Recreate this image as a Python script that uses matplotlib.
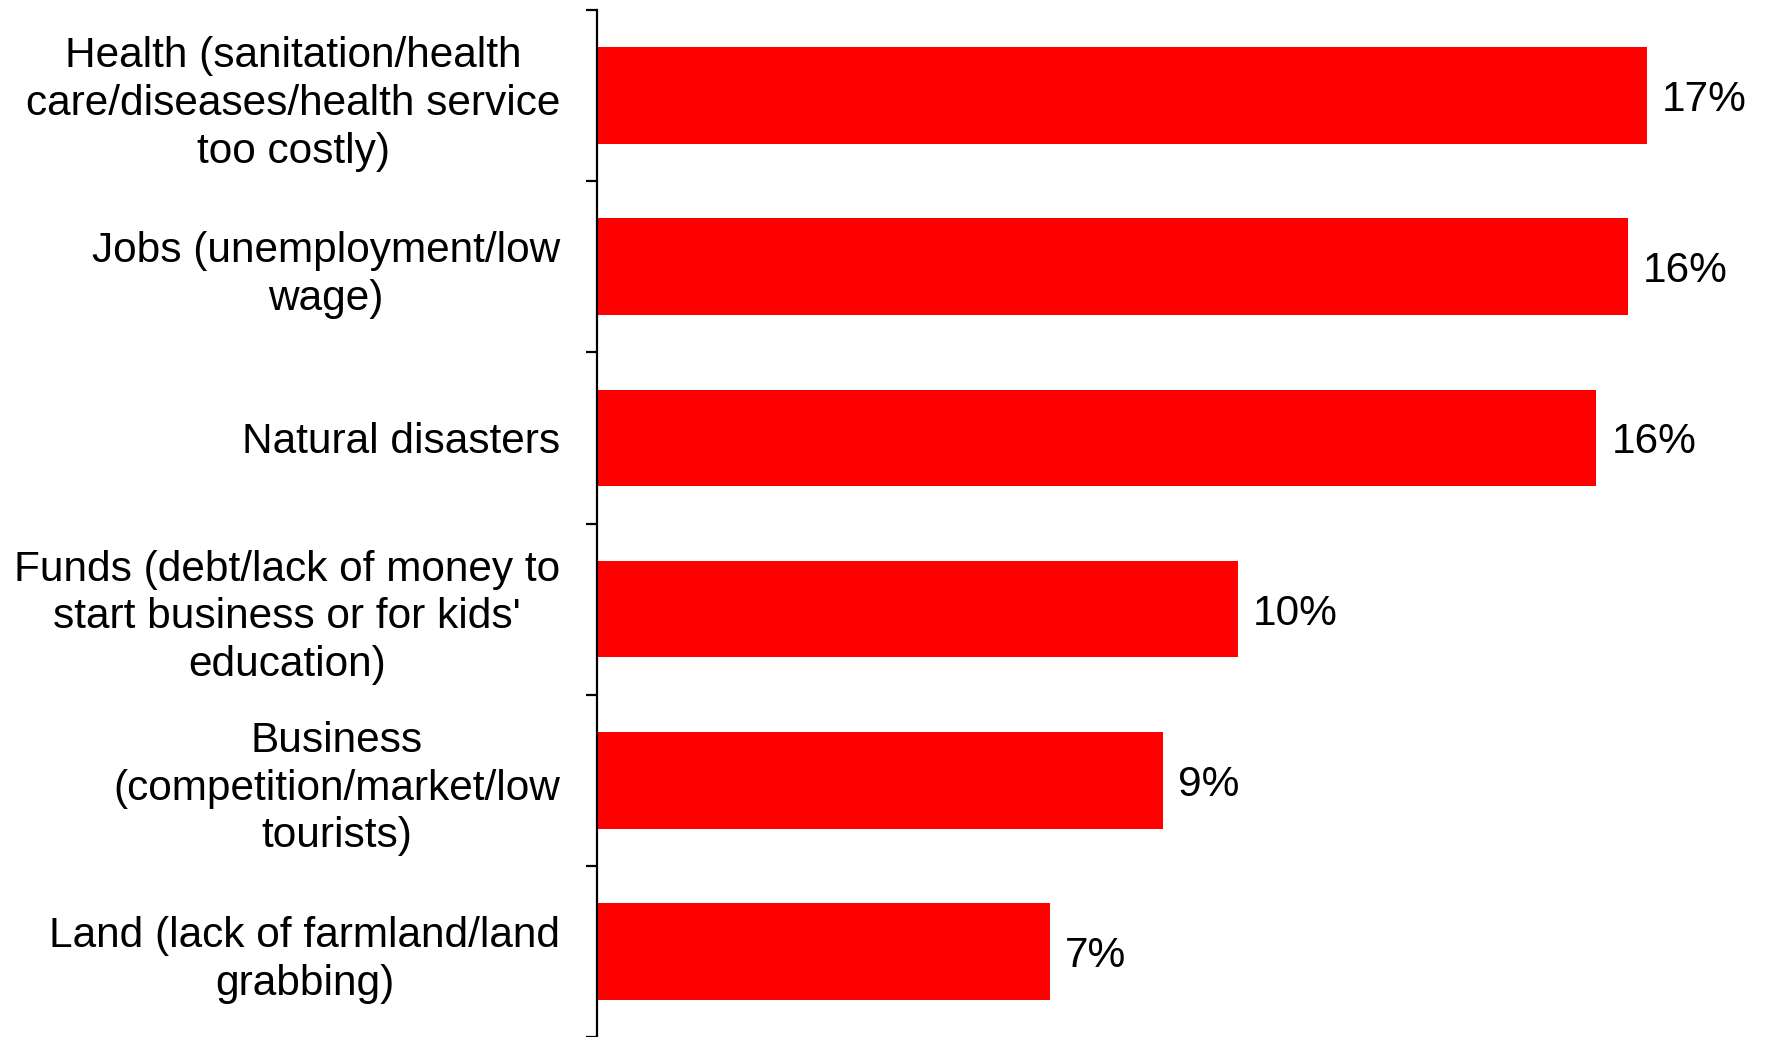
import matplotlib
matplotlib.use("Agg")
import matplotlib.pyplot as plt
import numpy as np

# categories, top to bottom
kategoriyalar = [
    "Health (sanitation/health\ncare/diseases/health service\ntoo costly)",
    "Jobs (unemployment/low\nwage)",
    "Natural disasters",
    "Funds (debt/lack of money to\nstart business or for kids'\neducation)",
    "Business\n(competition/market/low\ntourists)",
    "Land (lack of farmland/land\ngrabbing)",
]
qiymatlar = [16.7, 16.4, 15.9, 10.2, 9.0, 7.2]
yorliqlar = ["17%", "16%", "16%", "10%", "9%", "7%"]

plt.rcParams['font.family'] = ['Liberation Sans', 'DejaVu Sans']

fig = plt.figure(figsize=(17.66, 10.37), dpi=100)
ax = fig.add_axes([597 / 1766, 0.0, 1 - 597 / 1766, 1 - 10 / 1037])

n = len(kategoriyalar)
y = np.arange(n)
ax.barh(y, qiymatlar, height=0.565, color='#ff0000')

# qiymat yozuvlari
for yi, v, t in zip(y, qiymatlar, yorliqlar):
    ax.text(v + 0.24, yi, t, va='center_baseline', ha='left', fontsize=30.5)

ax.set_ylim(n - 0.5, -0.5)
ax.set_xlim(0, 18.6)

ax.set_yticks(y)
ax.set_yticklabels(kategoriyalar, fontsize=30.5, multialignment='center',
                   linespacing=1.25)
ax.tick_params(axis='y', which='major', length=0, pad=26.5)
ax.set_yticks(np.arange(n + 1) - 0.5, minor=True)
ax.tick_params(axis='y', which='minor', length=8, width=1.6, direction='out')

ax.set_xticks([])
for s in ['top', 'right', 'bottom']:
    ax.spines[s].set_visible(False)
ax.spines['left'].set_linewidth(1.6)

fig.savefig("out.png", dpi=100)
